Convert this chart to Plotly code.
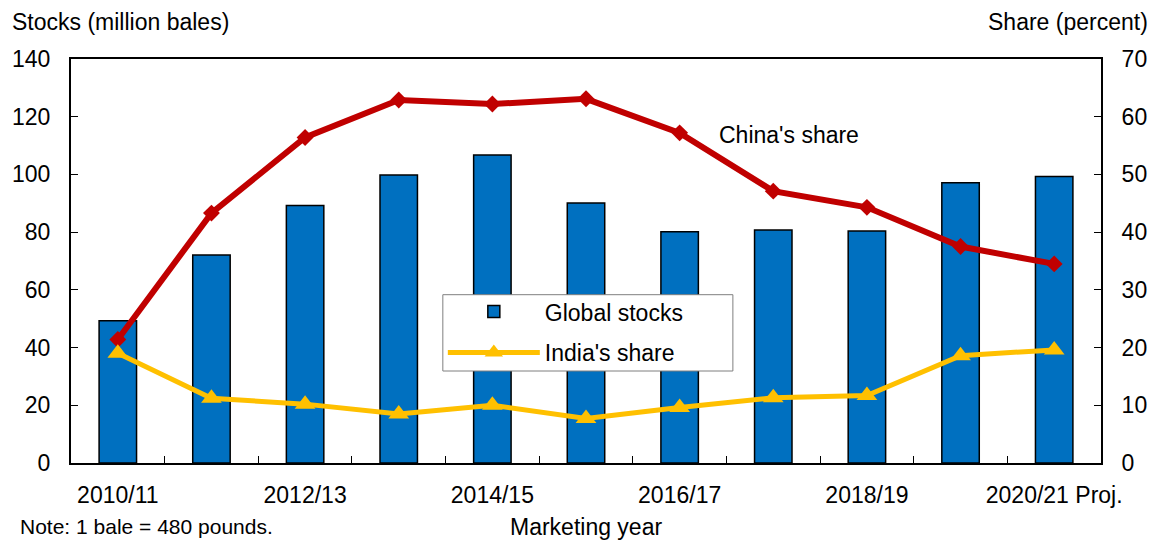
"""Global cotton stocks with China's and India's shares."""

import plotly.graph_objects as go

# marketing years (x categories)
years = ["2010/11", "2011/12", "2012/13", "2013/14", "2014/15", "2015/16",
         "2016/17", "2017/18", "2018/19", "2019/20", "2020/21 Proj."]
# every other year gets a label
year_labels = ["2010/11", "", "2012/13", "", "2014/15", "",
               "2016/17", "", "2018/19", "", "2020/21 Proj."]

# million bales
global_stocks = [49.3, 72.1, 89.2, 99.8, 106.7, 90.1, 80.1, 80.7, 80.4, 97.1, 99.3]
# percent of global stocks
china_share = [21.4, 43.3, 56.4, 62.9, 62.2, 63.1, 57.2, 47.1, 44.3, 37.5, 34.5]
india_share = [19.0, 11.2, 10.2, 8.5, 10.0, 7.7, 9.6, 11.3, 11.7, 18.6, 19.6]

FONT = "Arial, Liberation Sans, sans-serif"
FS = 23

fig = go.Figure()

fig.add_trace(go.Bar(
    x=years, y=global_stocks, name="Global stocks",
    marker=dict(color="#0070C0", line=dict(color="black", width=1.5)),
    legendgroup="a",
))

fig.add_trace(go.Scatter(
    x=years, y=china_share, name="China's share", yaxis="y2",
    mode="lines+markers",
    line=dict(color="#C00000", width=6),
    marker=dict(symbol="diamond", size=13, color="#C00000"),
    showlegend=False,
))

fig.add_trace(go.Scatter(
    x=years, y=india_share, name="India's share", yaxis="y2",
    mode="lines+markers",
    line=dict(color="#FFC000", width=5),
    marker=dict(symbol="triangle-up", size=18, color="#FFC000"),
    legendgroup="b",
))

# legend frame (drawn as a shape so it can be wider than the entries)
fig.add_shape(type="rect", xref="paper", yref="paper",
              x0=0.361, x1=0.6426, y0=0.2277, y1=0.4166,
              fillcolor="white", line=dict(color="#7f7f7f", width=1),
              layer="above")

fig.add_annotation(text="China's share", xref="paper", yref="paper",
                   x=0.697, y=0.812, xanchor="center", yanchor="middle",
                   showarrow=False, font=dict(size=FS))
fig.add_annotation(text="Stocks (million bales)", xref="paper", yref="paper",
                   x=-0.059, y=1.092, xanchor="left", yanchor="middle",
                   showarrow=False, font=dict(size=FS))
fig.add_annotation(text="Share (percent)", xref="paper", yref="paper",
                   x=1.048, y=1.092, xanchor="right", yanchor="middle",
                   showarrow=False, font=dict(size=FS))
fig.add_annotation(text="Marketing year", xref="paper", yref="paper",
                   x=0.5, y=-0.158, xanchor="center", yanchor="middle",
                   showarrow=False, font=dict(size=FS))
fig.add_annotation(text="Note: 1 bale = 480 pounds.", xref="paper", yref="paper",
                   x=-0.051, y=-0.1906, xanchor="left", yanchor="bottom",
                   showarrow=False, font=dict(size=21))

axis_common = dict(showgrid=False, zeroline=False, ticks="inside", ticklen=7,
                   tickcolor="black", tickwidth=1, linecolor="black", linewidth=2,
                   showline=True, automargin=False,
                   tickfont=dict(size=FS, color="black"))

fig.update_layout(
    width=1156, height=540,
    margin=dict(l=71, r=55, t=59, b=77),
    paper_bgcolor="white", plot_bgcolor="white",
    font=dict(family=FONT, color="black"),
    bargap=0.6,
    xaxis=dict(axis_common, tickson="boundaries", mirror=True, tickangle=0,
               range=[-0.5, len(years) - 0.5],
               tickvals=years, ticktext=year_labels, ticklabelstandoff=10),
    yaxis=dict(axis_common, range=[0, 140], dtick=20, ticklabelstandoff=14),
    yaxis2=dict(axis_common, range=[0, 70], dtick=10, overlaying="y",
                side="right", ticklabelstandoff=14),
    legend=dict(x=0.361, y=0.428, xanchor="left", yanchor="top",
                bgcolor="rgba(0,0,0,0)", borderwidth=0,
                font=dict(size=FS), traceorder="grouped", tracegroupgap=8,
                itemwidth=92),
    showlegend=True,
)

fig.write_html("out.html", config={"displayModeBar": False},
               post_script="document.body.style.margin='0';")
